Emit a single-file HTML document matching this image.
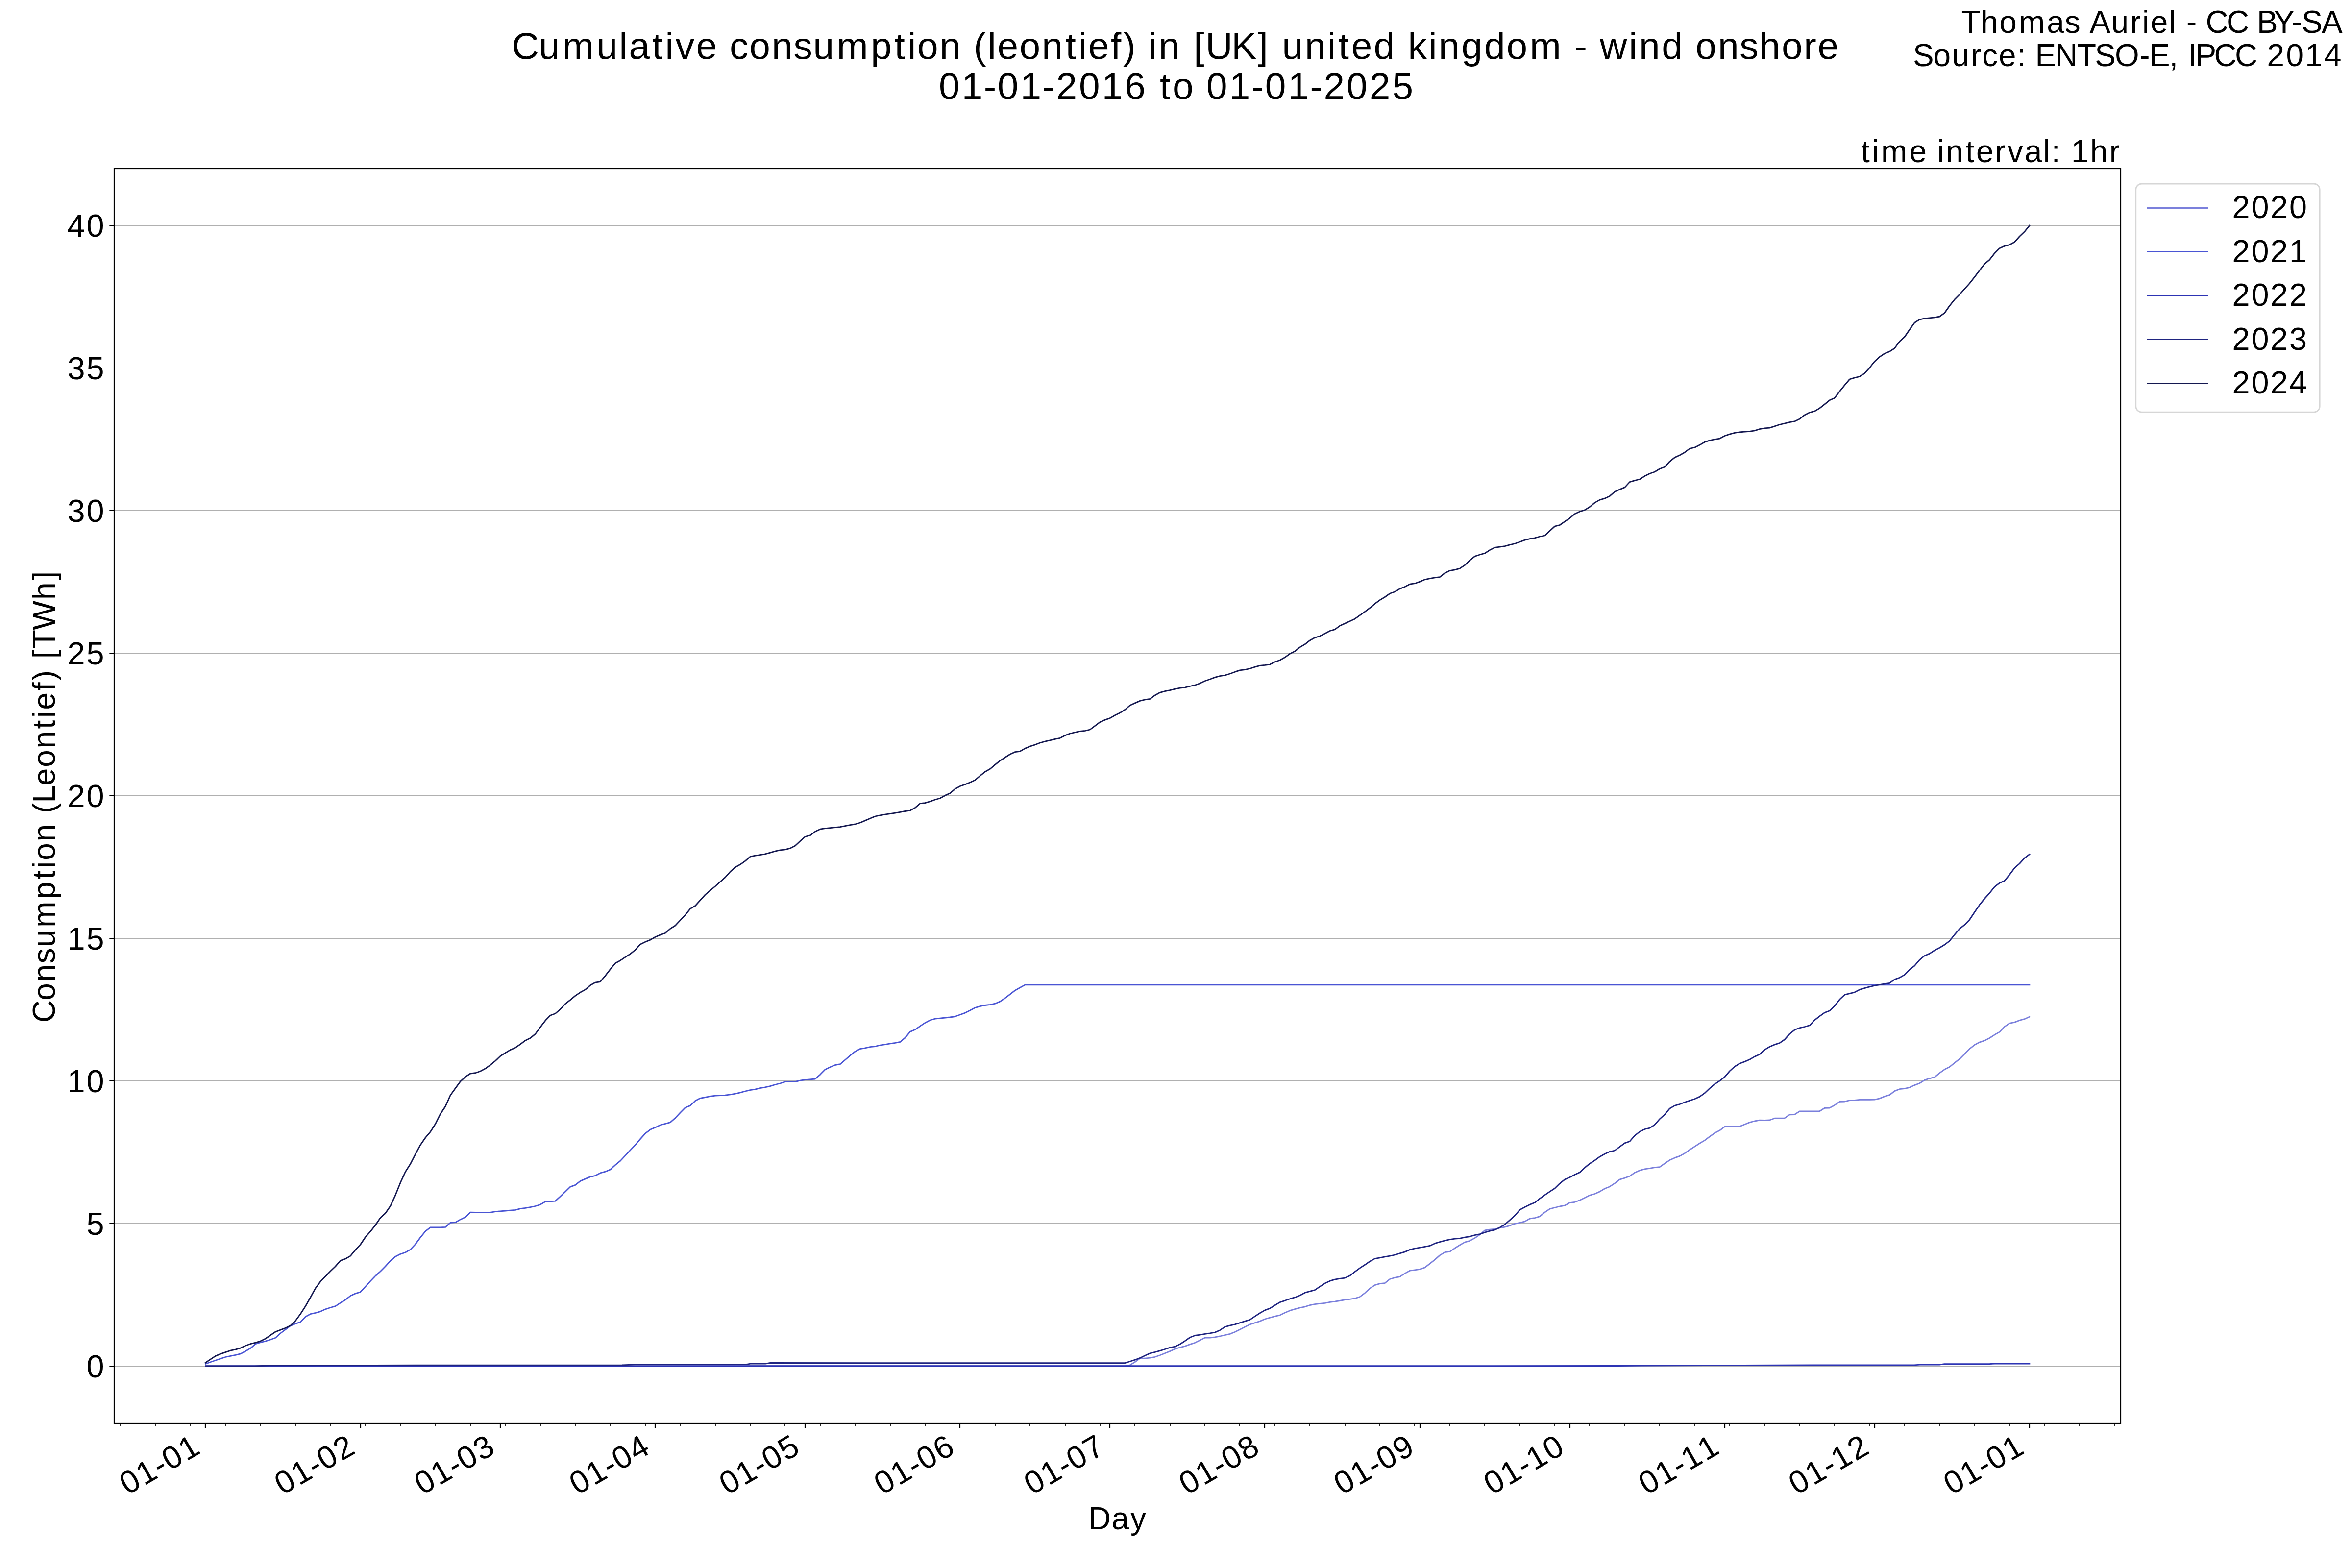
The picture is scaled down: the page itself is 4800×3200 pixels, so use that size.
<!DOCTYPE html>
<html lang="en"><head><meta charset="utf-8">
<title>Cumulative consumption (leontief) in [UK] united kingdom - wind onshore</title>
<style>html,body{margin:0;padding:0;background:#fff;width:4800px;height:3200px}svg{display:block}text{font-family:"Liberation Sans",sans-serif;fill:#000;white-space:pre}</style>
</head><body>
<svg width="4800" height="3200" viewBox="0 0 4800 3200">
<rect width="4800" height="3200" fill="#fff"/>
<g stroke="#b0b0b0" stroke-width="2.2" fill="none">
<line x1="233.3" y1="2788" x2="4328.1" y2="2788"/>
<line x1="233.3" y1="2497" x2="4328.1" y2="2497"/>
<line x1="233.3" y1="2206" x2="4328.1" y2="2206"/>
<line x1="233.3" y1="1915" x2="4328.1" y2="1915"/>
<line x1="233.3" y1="1624" x2="4328.1" y2="1624"/>
<line x1="233.3" y1="1333" x2="4328.1" y2="1333"/>
<line x1="233.3" y1="1042" x2="4328.1" y2="1042"/>
<line x1="233.3" y1="751" x2="4328.1" y2="751"/>
<line x1="233.3" y1="460" x2="4328.1" y2="460"/>
</g>
<g fill="none" stroke-width="2.8" stroke-linejoin="round" stroke-linecap="square">
<polyline stroke="#7b80dc" points="419.4,2788 2295.9,2787.9 2306.1,2785.9 2316.3,2779.5 2326.5,2772.1 2336.7,2772.1 2346.9,2771.1 2357.1,2769.3 2367.3,2765.8 2377.5,2761.7 2387.7,2757.6 2397.9,2753 2408.1,2749.9 2418.3,2747.4 2428.5,2743.6 2438.7,2740.3 2448.9,2735.2 2459.1,2730.1 2469.3,2730.1 2479.5,2728.8 2489.7,2727 2499.9,2724.7 2510.1,2722.4 2520.3,2718.3 2530.5,2713.2 2540.7,2708.1 2550.9,2703 2561.1,2699.7 2571.3,2696.4 2581.5,2692 2591.7,2689.2 2601.9,2686.4 2612.1,2684.1 2622.3,2679 2632.5,2674.7 2642.7,2671.6 2652.9,2668.8 2663.1,2666.8 2673.3,2663.5 2683.5,2661.7 2693.7,2660.4 2703.9,2659.4 2714.1,2657.3 2724.3,2656.1 2734.5,2654.5 2744.7,2652.6 2754.9,2651.3 2765.1,2649.9 2775.3,2646.5 2785.5,2638.8 2795.7,2629.4 2805.8,2622.7 2816,2619.6 2826.2,2618.6 2836.4,2610.5 2846.6,2607.4 2856.8,2605.6 2867,2598.9 2877.2,2593.2 2887.4,2591.9 2897.6,2590.4 2907.8,2586.9 2918,2578.9 2928.2,2570.9 2938.4,2561.9 2948.6,2555.6 2958.8,2554.3 2969,2547.3 2979.2,2541 2989.4,2535.1 2999.6,2532.3 3009.8,2526.6 3020,2519.6 3030.2,2511 3040.4,2509.2 3050.6,2508.4 3060.8,2505.9 3071,2504.1 3081.2,2501.3 3091.4,2497.4 3101.6,2495.4 3111.8,2492.9 3122,2487 3132.2,2485.7 3142.4,2482.7 3152.6,2474.2 3162.8,2467.1 3173,2464.5 3183.2,2462 3193.4,2460.2 3203.6,2454.6 3213.8,2453.3 3224,2449.5 3234.2,2444.4 3244.4,2439.3 3254.6,2436.5 3264.8,2431.9 3275,2425.8 3285.2,2421.7 3295.4,2414.8 3305.6,2407.1 3315.8,2404.1 3326,2400.3 3336.2,2393.2 3346.4,2388.6 3356.6,2385.8 3366.8,2384.3 3377,2382.7 3387.2,2381.6 3397.4,2374.4 3407.6,2367.6 3417.8,2362.9 3428,2359.4 3438.2,2353.7 3448.4,2346.5 3458.6,2339.8 3468.8,2333.2 3478.9,2327.4 3489.1,2319.7 3499.3,2312.3 3509.5,2307.1 3519.7,2299.3 3529.9,2299.4 3540.1,2299.4 3550.3,2298.9 3560.5,2294.7 3570.7,2290.6 3580.9,2288 3591.1,2286.2 3601.3,2286.3 3611.5,2286 3621.7,2282.2 3631.9,2282.2 3642.1,2281.9 3652.3,2274.8 3662.5,2274.5 3672.7,2267.9 3682.9,2267.9 3693.1,2267.9 3703.3,2267.9 3713.5,2267.7 3723.7,2261.3 3733.9,2261 3744.1,2255.4 3754.3,2248.3 3764.5,2248 3774.7,2245.7 3784.9,2245.5 3795.1,2244.4 3805.3,2244.2 3815.5,2244.4 3825.7,2244.2 3835.9,2241.9 3846.1,2237.6 3856.3,2234.6 3866.5,2226.6 3876.7,2222.7 3886.9,2221.7 3897.1,2219.3 3907.3,2214.6 3917.5,2210.8 3927.7,2204.4 3937.9,2200.8 3948.1,2198.3 3958.3,2189.9 3968.5,2182.6 3978.7,2177.5 3988.9,2169.2 3999.1,2161.2 4009.3,2151.1 4019.5,2140.7 4029.7,2132.5 4039.9,2127.1 4050.1,2123.7 4060.3,2118.5 4070.5,2111.8 4080.7,2106.1 4090.9,2095.4 4101.1,2088.3 4111.3,2086.4 4121.5,2082.4 4131.7,2079.7 4141.9,2075.1"/>
<polyline stroke="#4a55d4" points="419.4,2783.5 429.6,2779.7 439.8,2776.2 450,2772.8 460.2,2769.5 470.4,2767.4 480.6,2765.4 490.8,2762.9 501,2757.5 511.2,2751.6 521.4,2742.7 531.6,2739.6 541.8,2737.1 552,2734 562.2,2730.2 572.4,2721 582.6,2713.4 592.8,2705.7 603,2701.4 613.2,2698.1 623.4,2687.3 633.6,2681.7 643.8,2679.4 654,2676.6 664.2,2671.8 674.4,2668.5 684.6,2665.7 694.8,2658.8 705,2652.7 715.2,2644.5 725.4,2639.9 735.6,2636.8 745.8,2625.6 756,2614.4 766.1,2603.9 776.3,2594.7 786.5,2584.5 796.7,2573.1 806.9,2564.6 817.1,2559.3 827.3,2556 837.5,2550.1 847.7,2539.4 857.9,2525.4 868.1,2512.9 878.3,2504.9 888.5,2504.9 898.7,2504.9 908.9,2504.4 919.1,2495.3 929.3,2494.7 939.5,2488.9 949.7,2484 959.9,2474.2 970.1,2474.5 980.3,2474.5 990.5,2474.5 1000.7,2474.3 1010.9,2472.6 1021.1,2471.8 1031.3,2471 1041.5,2470.1 1051.7,2469.4 1061.9,2466.7 1072.1,2465.4 1082.3,2463.6 1092.5,2461.5 1102.7,2458.3 1112.9,2452.4 1123.1,2451.9 1133.3,2451.1 1143.5,2441.8 1153.7,2431.9 1163.9,2422.1 1174.1,2418.4 1184.3,2410.4 1194.5,2405.9 1204.7,2401.6 1214.9,2399.3 1225.1,2393.9 1235.3,2391.2 1245.5,2386.9 1255.7,2377.5 1265.9,2369.1 1276.1,2358.4 1286.3,2347.4 1296.5,2336.7 1306.7,2324.5 1316.9,2313.2 1327.1,2305.3 1337.3,2300.9 1347.5,2296 1357.7,2293.4 1367.9,2290.6 1378.1,2281.6 1388.3,2270.7 1398.5,2260.5 1408.7,2256.4 1418.9,2246.4 1429.1,2241.3 1439.2,2239.5 1449.4,2237.5 1459.6,2236.2 1469.8,2235.7 1480,2235.2 1490.2,2233.9 1500.4,2232.1 1510.6,2229.8 1520.8,2227 1531,2224.7 1541.2,2223.2 1551.4,2220.7 1561.6,2218.9 1571.8,2216.6 1582,2213.5 1592.2,2211 1602.4,2207.7 1612.6,2207.7 1622.8,2207.7 1633,2205.1 1643.2,2203.6 1653.4,2202.8 1663.6,2202 1673.8,2193.1 1684,2182.7 1694.2,2177.8 1704.4,2173.5 1714.6,2171.7 1724.8,2163 1735,2154.1 1745.2,2145.9 1755.4,2140.6 1765.6,2138.8 1775.8,2136.7 1786,2135.5 1796.2,2133.2 1806.4,2131.6 1816.6,2129.8 1826.8,2128.3 1837,2126.5 1847.2,2117.9 1857.4,2105.6 1867.6,2101.3 1877.8,2094.1 1888,2087.4 1898.2,2082 1908.4,2079.1 1918.6,2078.1 1928.8,2077 1939,2076 1949.2,2074.5 1959.4,2070.7 1969.6,2067.1 1979.8,2062 1990,2056.6 2000.2,2053.6 2010.4,2051.5 2020.6,2050.3 2030.8,2048.2 2041,2043.9 2051.2,2037 2061.4,2029.1 2071.6,2021.2 2081.8,2015.6 2092,2009.9 4141.9,2009.9"/>
<polyline stroke="#2d34b4" points="419.4,2787.9 3300,2787.5 3350,2787.2 3480,2786.5 3700,2785.9 3906.6,2785.9 3918,2785.2 3958,2785.2 3968,2783.6 4060,2783.6 4071,2783 4141.9,2783"/>
<polyline stroke="#1f2480" points="419.4,2787.9 520,2787.8 550,2786.9 850,2786.2 1270,2785.8 1296,2784.8 1522,2784.6 1531.5,2783.2 1562,2783.2 1571.7,2781.5 2295.9,2781.6 2306.1,2778.5 2316.3,2775.2 2326.5,2771.4 2336.7,2766.5 2346.9,2761.9 2357.1,2759.4 2367.3,2756.6 2377.5,2753.5 2387.7,2750.2 2397.9,2748.2 2408.1,2743.3 2418.3,2736.7 2428.5,2729.5 2438.7,2725.5 2448.9,2724.2 2459.1,2722.4 2469.3,2720.9 2479.5,2719.1 2489.7,2714.7 2499.9,2707.9 2510.1,2705.1 2520.3,2702.8 2530.5,2699.7 2540.7,2696.4 2550.9,2693.3 2561.1,2686.4 2571.3,2679.8 2581.5,2673.9 2591.7,2670.1 2601.9,2663.7 2612.1,2657.6 2622.3,2654.3 2632.5,2650.7 2642.7,2647.7 2652.9,2643.8 2663.1,2638.2 2673.3,2635.4 2683.5,2632.6 2693.7,2625.7 2703.9,2619.1 2714.1,2614.2 2724.3,2611.2 2734.5,2609.4 2744.7,2608.1 2754.9,2603.4 2765.1,2595.3 2775.3,2587.9 2785.5,2581.3 2795.7,2574.2 2805.8,2568.6 2816,2566.8 2826.2,2564.9 2836.4,2563.1 2846.6,2561 2856.8,2557.9 2867,2554.9 2877.2,2550.4 2887.4,2547.8 2897.6,2546.2 2907.8,2544.4 2918,2542.4 2928.2,2537.7 2938.4,2534.6 2948.6,2531.8 2958.8,2529.7 2969,2528.1 2979.2,2527.4 2989.4,2525.1 2999.6,2523.5 3009.8,2520.7 3020,2518.6 3030.2,2515.1 3040.4,2512.2 3050.6,2509.9 3060.8,2505.1 3071,2499 3081.2,2490.1 3091.4,2480.9 3101.6,2469.1 3111.8,2463.5 3122,2458.4 3132.2,2454.3 3142.4,2446.2 3152.6,2438.8 3162.8,2431.9 3173,2425.3 3183.2,2415.3 3193.4,2407.1 3203.6,2402.8 3213.8,2397.2 3224,2392.6 3234.2,2383.2 3244.4,2374.7 3254.6,2368.1 3264.8,2360.7 3275,2355.1 3285.2,2350.3 3295.4,2348 3305.6,2340.4 3315.8,2332.8 3326,2329.4 3336.2,2317.6 3346.4,2309.5 3356.6,2304.5 3366.8,2302.2 3377,2295.4 3387.2,2283.7 3397.4,2274.5 3407.6,2262.2 3417.8,2256.4 3428,2253.5 3438.2,2249.5 3448.4,2246.2 3458.6,2242.7 3468.8,2238.1 3478.9,2230.9 3489.1,2221.2 3499.3,2212.6 3509.5,2205.9 3519.7,2198 3529.9,2186 3540.1,2176.8 3550.3,2170.5 3560.5,2166.6 3570.7,2162.3 3580.9,2156.4 3591.1,2151.8 3601.3,2142.4 3611.5,2136.3 3621.7,2131.9 3631.9,2128.6 3642.1,2121.5 3652.3,2110 3662.5,2101.8 3672.7,2097.8 3682.9,2095.5 3693.1,2092.7 3703.3,2081.9 3713.5,2073.8 3723.7,2066.6 3733.9,2062.8 3744.1,2053.1 3754.3,2039.8 3764.5,2030.2 3774.7,2027.6 3784.9,2025.1 3795.1,2019.7 3805.3,2016.6 3815.5,2013.8 3825.7,2011.3 3835.9,2009.7 3846.1,2008 3856.3,2006.3 3866.5,1998.9 3876.7,1995.2 3886.9,1989.4 3897.1,1978.9 3907.3,1970.8 3917.5,1958.8 3927.7,1950.5 3937.9,1946.1 3948.1,1939.5 3958.3,1934.3 3968.5,1928 3978.7,1920.3 3988.9,1907.5 3999.1,1895.6 4009.3,1887.4 4019.5,1876.9 4029.7,1861.6 4039.9,1846.7 4050.1,1834 4060.3,1822.7 4070.5,1809.9 4080.7,1802.1 4090.9,1797.5 4101.1,1785.2 4111.3,1771.3 4121.5,1762.5 4131.7,1751.2 4141.9,1743.5"/>
<polyline stroke="#141850" points="419.4,2781 429.6,2774.2 439.8,2767.4 450,2763.1 460.2,2759.7 470.4,2756.2 480.6,2754.2 490.8,2751.1 501,2746.3 511.2,2742.7 521.4,2740.2 531.6,2737.1 541.8,2732 552,2724.8 562.2,2718 572.4,2714.1 582.6,2710.3 592.8,2705.2 603,2695.5 613.2,2681.5 623.4,2665.7 633.6,2647.8 643.8,2629.2 654,2615.4 664.2,2604.7 674.4,2594.2 684.6,2584.5 694.8,2572.6 705,2569 715.2,2563.1 725.4,2550.6 735.6,2539.9 745.8,2524.6 756,2513.1 766.1,2500.4 776.3,2485.3 786.5,2476.1 796.7,2461.3 806.9,2439.1 817.1,2413.7 827.3,2391.5 837.5,2375.5 847.7,2355.6 857.9,2336.7 868.1,2321.9 878.3,2309.9 888.5,2293.8 898.7,2273.4 908.9,2258.1 919.1,2235.2 929.3,2221.1 939.5,2207.1 949.7,2197.7 959.9,2191 970.1,2189.7 980.3,2186.2 990.5,2180.8 1000.7,2173.4 1010.9,2165 1021.1,2155.3 1031.3,2148.7 1041.5,2142.6 1051.7,2138.2 1061.9,2131.1 1072.1,2123.4 1082.3,2118.6 1092.5,2110.2 1102.7,2096.1 1112.9,2082.8 1123.1,2072.2 1133.3,2068.5 1143.5,2059.8 1153.7,2048.6 1163.9,2040.6 1174.1,2032.1 1184.3,2025.3 1194.5,2019.6 1204.7,2010.7 1214.9,2005.1 1225.1,2003.6 1235.3,1991.3 1245.5,1978.1 1255.7,1965.8 1265.9,1960.2 1276.1,1953.3 1286.3,1946.9 1296.5,1938.5 1306.7,1927.3 1316.9,1922.2 1327.1,1918.1 1337.3,1912.2 1347.5,1907.9 1357.7,1904.3 1367.9,1895.2 1378.1,1889 1388.3,1878.1 1398.5,1867.1 1408.7,1854.6 1418.9,1848.5 1429.1,1837.2 1439.2,1826 1449.4,1817.3 1459.6,1808.7 1469.8,1799.5 1480,1790.6 1490.2,1779.1 1500.4,1769.9 1510.6,1764.3 1520.8,1757.1 1531,1748.2 1541.2,1746.2 1551.4,1744.6 1561.6,1742.9 1571.8,1740.1 1582,1737.2 1592.2,1734.9 1602.4,1733.9 1612.6,1731.2 1622.8,1726.1 1633,1716.4 1643.2,1707.5 1653.4,1704.8 1663.6,1697.1 1673.8,1692.2 1684,1690.7 1694.2,1689.7 1704.4,1688.7 1714.6,1687.7 1724.8,1685.6 1735,1683.6 1745.2,1682 1755.4,1679 1765.6,1674.6 1775.8,1670.3 1786,1666 1796.2,1663.9 1806.4,1662.1 1816.6,1660.6 1826.8,1659.1 1837,1657.3 1847.2,1655.5 1857.4,1654.2 1867.6,1648.4 1877.8,1639.7 1888,1638.7 1898.2,1635.6 1908.4,1632 1918.6,1629 1928.8,1623.4 1939,1618.8 1949.2,1610.1 1959.4,1604.5 1969.6,1600.9 1979.8,1596.8 1990,1592 2000.2,1583.3 2010.4,1574.9 2020.6,1569.3 2030.8,1560.6 2041,1552.4 2051.2,1545.8 2061.4,1539.2 2071.6,1534.6 2081.8,1533.3 2092,1527.4 2102.2,1523.1 2112.4,1519.8 2122.5,1516 2132.7,1513.2 2142.9,1510.9 2153.1,1508.3 2163.3,1506.3 2173.5,1500.9 2183.7,1497 2193.9,1494.7 2204.1,1492.3 2214.3,1491.3 2224.5,1489 2234.7,1481.4 2244.9,1473.7 2255.1,1469.1 2265.3,1465.6 2275.5,1459.7 2285.7,1454.8 2295.9,1448.2 2306.1,1439.5 2316.3,1434.9 2326.5,1430.4 2336.7,1427.8 2346.9,1426.5 2357.1,1418.9 2367.3,1413.3 2377.5,1410.7 2387.7,1408.7 2397.9,1406.1 2408.1,1404.1 2418.3,1403.1 2428.5,1400.5 2438.7,1398.2 2448.9,1394.6 2459.1,1389.8 2469.3,1386.2 2479.5,1382.4 2489.7,1379.6 2499.9,1378.1 2510.1,1375 2520.3,1371.2 2530.5,1367.9 2540.7,1366.6 2550.9,1364.5 2561.1,1361.2 2571.3,1358.4 2581.5,1357.4 2591.7,1356.1 2601.9,1350.8 2612.1,1347.2 2622.3,1341.6 2632.5,1334.2 2642.7,1329.1 2652.9,1320.9 2663.1,1314.8 2673.3,1306.9 2683.5,1301.3 2693.7,1298 2703.9,1293.1 2714.1,1287.5 2724.3,1284.7 2734.5,1277 2744.7,1272.4 2754.9,1267.7 2765.1,1262.9 2775.3,1255.7 2785.5,1248.3 2795.7,1240.7 2805.8,1232.2 2816,1224.6 2826.2,1218.5 2836.4,1211.3 2846.6,1207.8 2856.8,1201.6 2867,1197.6 2877.2,1192.2 2887.4,1190.7 2897.6,1187.1 2907.8,1182.8 2918,1180.7 2928.2,1178.9 2938.4,1177.7 2948.6,1169.7 2958.8,1164.6 2969,1162.9 2979.2,1160.1 2989.4,1153.4 2999.6,1143.5 3009.8,1135.3 3020,1132 3030.2,1129.2 3040.4,1122.6 3050.6,1117.4 3060.8,1116.2 3071,1114.6 3081.2,1111.8 3091.4,1109.5 3101.6,1106 3111.8,1102.1 3122,1099.6 3132.2,1097.8 3142.4,1095 3152.6,1093 3162.8,1083.5 3173,1074.1 3183.2,1071.5 3193.4,1064.4 3203.6,1057.5 3213.8,1048.8 3224,1044 3234.2,1040.9 3244.4,1034.5 3254.6,1025.9 3264.8,1020.1 3275,1017.2 3285.2,1012.4 3295.4,1003.5 3305.6,998.9 3315.8,994.6 3326,983.6 3336.2,980.6 3346.4,978 3356.6,971.6 3366.8,966.5 3377,963 3387.2,956.8 3397.4,953 3407.6,941.8 3417.8,933.6 3428,929 3438.2,923.2 3448.4,915.5 3458.6,913.2 3468.8,908.1 3478.9,902.2 3489.1,898.9 3499.3,896.6 3509.5,895.1 3519.7,889.5 3529.9,886.2 3540.1,883.4 3550.3,881.8 3560.5,881.1 3570.7,880.3 3580.9,878.8 3591.1,875.7 3601.3,873.9 3611.5,873.2 3621.7,869.8 3631.9,866.5 3642.1,864.2 3652.3,861.7 3662.5,859.9 3672.7,855.1 3682.9,846.9 3693.1,841.8 3703.3,839.2 3713.5,833.1 3723.7,825.2 3733.9,816.8 3744.1,812.2 3754.3,798.9 3764.5,786.1 3774.7,774 3784.9,770.9 3795.1,768.5 3805.3,761.8 3815.5,750.5 3825.7,737.7 3835.9,728.3 3846.1,721.5 3856.3,717.4 3866.5,710.8 3876.7,696.8 3886.9,687.6 3897.1,672.6 3907.3,658.5 3917.5,652.1 3927.7,649.8 3937.9,648.8 3948.1,647.8 3958.3,646 3968.5,638.6 3978.7,624.1 3988.9,611.3 3999.1,601.1 4009.3,589.6 4019.5,578.4 4029.7,565.4 4039.9,551.9 4050.1,538.6 4060.3,530.2 4070.5,516.9 4080.7,506.7 4090.9,502.1 4101.1,499.6 4111.3,494 4121.5,482.5 4131.7,472.8 4141.9,460.1"/>
</g>
<g stroke="#000" fill="none">
<path stroke-width="2.2" d="M419 2905 v9.7 M736 2905 v9.7 M1021 2905 v9.7 M1337 2905 v9.7 M1643 2905 v9.7 M1959 2905 v9.7 M2265 2905 v9.7 M2581 2905 v9.7 M2898 2905 v9.7 M3204 2905 v9.7 M3520 2905 v9.7 M3826 2905 v9.7 M4142 2905 v9.7"/>
<path stroke-width="1.7" d="M246 2905 v5.6 M317 2905 v5.6 M389 2905 v5.6 M460 2905 v5.6 M532 2905 v5.6 M603 2905 v5.6 M674 2905 v5.6 M746 2905 v5.6 M817 2905 v5.6 M889 2905 v5.6 M960 2905 v5.6 M1031 2905 v5.6 M1103 2905 v5.6 M1174 2905 v5.6 M1245 2905 v5.6 M1317 2905 v5.6 M1388 2905 v5.6 M1460 2905 v5.6 M1531 2905 v5.6 M1602 2905 v5.6 M1674 2905 v5.6 M1745 2905 v5.6 M1817 2905 v5.6 M1888 2905 v5.6 M1959 2905 v5.6 M2031 2905 v5.6 M2102 2905 v5.6 M2174 2905 v5.6 M2245 2905 v5.6 M2316 2905 v5.6 M2388 2905 v5.6 M2459 2905 v5.6 M2530 2905 v5.6 M2602 2905 v5.6 M2673 2905 v5.6 M2745 2905 v5.6 M2816 2905 v5.6 M2887 2905 v5.6 M2959 2905 v5.6 M3030 2905 v5.6 M3102 2905 v5.6 M3173 2905 v5.6 M3244 2905 v5.6 M3316 2905 v5.6 M3387 2905 v5.6 M3459 2905 v5.6 M3530 2905 v5.6 M3601 2905 v5.6 M3673 2905 v5.6 M3744 2905 v5.6 M3816 2905 v5.6 M3887 2905 v5.6 M3958 2905 v5.6 M4030 2905 v5.6 M4101 2905 v5.6 M4172 2905 v5.6 M4244 2905 v5.6 M4315 2905 v5.6"/>
<path stroke-width="2.2" d="M233 2788 h-9.7 M233 2497 h-9.7 M233 2206 h-9.7 M233 1915 h-9.7 M233 1624 h-9.7 M233 1333 h-9.7 M233 1042 h-9.7 M233 751 h-9.7 M233 460 h-9.7"/>
<rect x="233" y="344" width="4095" height="2561" stroke-width="2.2"/>
</g>
<rect x="4358.8" y="375" width="375.4" height="466.1" rx="12.2" ry="12.2" fill="#fff" fill-opacity="0.8" stroke="#ccc" stroke-opacity="0.8" stroke-width="2.8"/>
<g fill="none" stroke-width="2.8" stroke-linecap="square">
<line x1="4383.2" y1="424.5" x2="4505.4" y2="424.5" stroke="#7b80dc"/>
<line x1="4383.2" y1="513.5" x2="4505.4" y2="513.5" stroke="#4a55d4"/>
<line x1="4383.2" y1="603.5" x2="4505.4" y2="603.5" stroke="#2d34b4"/>
<line x1="4383.2" y1="692.5" x2="4505.4" y2="692.5" stroke="#1f2480"/>
<line x1="4383.2" y1="782.5" x2="4505.4" y2="782.5" stroke="#141850"/>
</g>
<g>
<text transform="translate(259.3 3052.5) rotate(-30)" font-size="64.8" y="0" x="1.4 40.2 77.9 101.1 139.9">01-01</text>
<text transform="translate(575.5 3052.5) rotate(-30)" font-size="64.8" y="0" x="1.4 40.2 77.9 101.1 139.9">01-02</text>
<text transform="translate(861 3052.5) rotate(-30)" font-size="64.8" y="0" x="1.4 40.2 77.9 101.1 139.9">01-03</text>
<text transform="translate(1177.2 3052.5) rotate(-30)" font-size="64.8" y="0" x="1.4 40.2 77.9 101.1 139.9">01-04</text>
<text transform="translate(1483.2 3052.5) rotate(-30)" font-size="64.8" y="0" x="1.4 40.2 77.9 101.1 139.9">01-05</text>
<text transform="translate(1799.3 3052.5) rotate(-30)" font-size="64.8" y="0" x="1.4 40.2 77.9 101.1 139.9">01-06</text>
<text transform="translate(2105.3 3052.5) rotate(-30)" font-size="64.8" y="0" x="1.4 40.2 77.9 101.1 139.9">01-07</text>
<text transform="translate(2421.5 3052.4) rotate(-30)" font-size="64.8" y="0" x="1.4 40.2 77.8 101 139.8">01-08</text>
<text transform="translate(2737.6 3052.5) rotate(-30)" font-size="64.8" y="0" x="1.4 40.2 77.9 101.1 139.9">01-09</text>
<text transform="translate(3043.6 3052.5) rotate(-30)" font-size="64.8" y="0" x="1.4 40.2 77.9 101.1 139.9">01-10</text>
<text transform="translate(3359.6 3052.5) rotate(-30)" font-size="64.8" y="0" x="1.4 40.3 78 101.2 140.1">01-11</text>
<text transform="translate(3665.6 3052.5) rotate(-30)" font-size="64.8" y="0" x="1.4 40.3 78 101.2 140.1">01-12</text>
<text transform="translate(3981.8 3052.5) rotate(-30)" font-size="64.8" y="0" x="1.4 40.2 77.9 101.1 139.9">01-01</text>
<text transform="translate(2220.4 3120.9)" font-size="63.9" y="0" x="0.5 48 86.6">Day</text>
<text transform="translate(175.1 2811.1)" font-size="64.8" y="0" x="1.4">0</text>
<text transform="translate(175 2520.1)" font-size="64.8" y="0" x="1.4">5</text>
<text transform="translate(136.2 2229.1)" font-size="64.8" y="0" x="1.4 40.2">10</text>
<text transform="translate(136.1 1938.1)" font-size="64.8" y="0" x="1.4 40.3">15</text>
<text transform="translate(136.2 1647.1)" font-size="64.8" y="0" x="1.4 40.2">20</text>
<text transform="translate(136.1 1356.1)" font-size="64.8" y="0" x="1.4 40.3">25</text>
<text transform="translate(136.2 1065.1)" font-size="64.8" y="0" x="1.4 40.2">30</text>
<text transform="translate(136.1 774.1)" font-size="64.8" y="0" x="1.4 40.3">35</text>
<text transform="translate(136.2 483.1)" font-size="64.8" y="0" x="1.4 40.2">40</text>
<text transform="translate(112 2085.3) rotate(-90)" font-size="63.9" y="0" x="-1.7 43.6 81.7 118.8 152.3 192.6 250.6 290.9 313.1 329.6 367.7 405.7 425.6 446.8 482.1 519.6 557.7 597.9 620.2 636.8 675.2 696.2 719.6 741.2 761.2 799.4 861.4 901.6">Consumption (Leontief) [TWh]</text>
<text transform="translate(3794.9 330.7)" font-size="63.9" y="0" x="3.1 25.4 44.1 101.5 138.9 158.9 176 216.3 238.2 276.6 301.9 336.9 374.8 391.8 411.8 432.1 470.9 509.9">time interval: 1hr</text>
<text transform="translate(4554.2 445.1)" font-size="64.8" y="0" x="1.4 40.2 79 117.8">2020</text>
<text transform="translate(4554.2 534.7)" font-size="64.8" y="0" x="1.4 40.3 79.1 117.9">2021</text>
<text transform="translate(4554.2 624.3)" font-size="64.8" y="0" x="1.4 40.3 79.1 117.9">2022</text>
<text transform="translate(4554.2 713.8)" font-size="64.8" y="0" x="1.4 40.3 79.1 117.9">2023</text>
<text transform="translate(4554.2 803.4)" font-size="64.8" y="0" x="1.4 40.3 79.1 117.9">2024</text>
<text transform="translate(1046.6 120)" font-size="76.6" y="0" x="-2.1 53 101.3 170.8 217 236.8 284.3 311 332.2 374.2 419.1 442.3 482.7 528.3 572.8 612.9 661.2 730.7 779 805.7 825.4 871.1 916.6 940.4 969.1 989 1034 1079.6 1127.8 1154.5 1174.4 1220.5 1245.5 1273.6 1297.5 1318.1 1363.6 1389.6 1413.6 1466.6 1519.8 1545.7 1569.9 1616.3 1662.5 1684.9 1711.1 1756.9 1802.5 1826.8 1868.8 1889.4 1935.9 1982.4 2028 2075.5 2144.1 2166.8 2193.8 2218.4 2277.7 2298.3 2344.7 2390.3 2413.7 2459.3 2503.7 2543.9 2589.5 2634.7 2662.9">Cumulative consumption (leontief) in [UK] united kingdom - wind onshore</text>
<text transform="translate(1914.1 202.2)" font-size="76.6" y="0" x="2 48.6 93.7 121.7 168.3 213.4 241.4 288 334.6 381.2 426.9 452.9 479 523.7 548 594.6 639.7 667.7 714.3 759.4 787.4 834 880.6 927.3">01-01-2016 to 01-01-2025</text>
<text transform="translate(4003.3 66.8)" font-size="63.9" y="0" x="-0.8 38.9 77 116.6 174 210.4 243.1 261.3 305.1 344.2 368.8 385.4 423.3 439.8 458.7 481.2 498.1 540.8 586 602.6 636.9 673.6 693.9 734.8">Thomas Auriel - CC BY-SA</text>
<text transform="translate(3905.9 135)" font-size="63.9" y="0" x="-1.9 39.7 77.7 116.1 139.4 173.2 211.2 231.2 247.7 288.1 333.2 369.4 410.2 460.3 480 521.4 540.8 559.5 574.5 612.5 655.1 700.4 720.6 759.5 798.3 837.2">Source: ENTSO-E, IPCC 2014</text>
</g>
</svg>
</body></html>
